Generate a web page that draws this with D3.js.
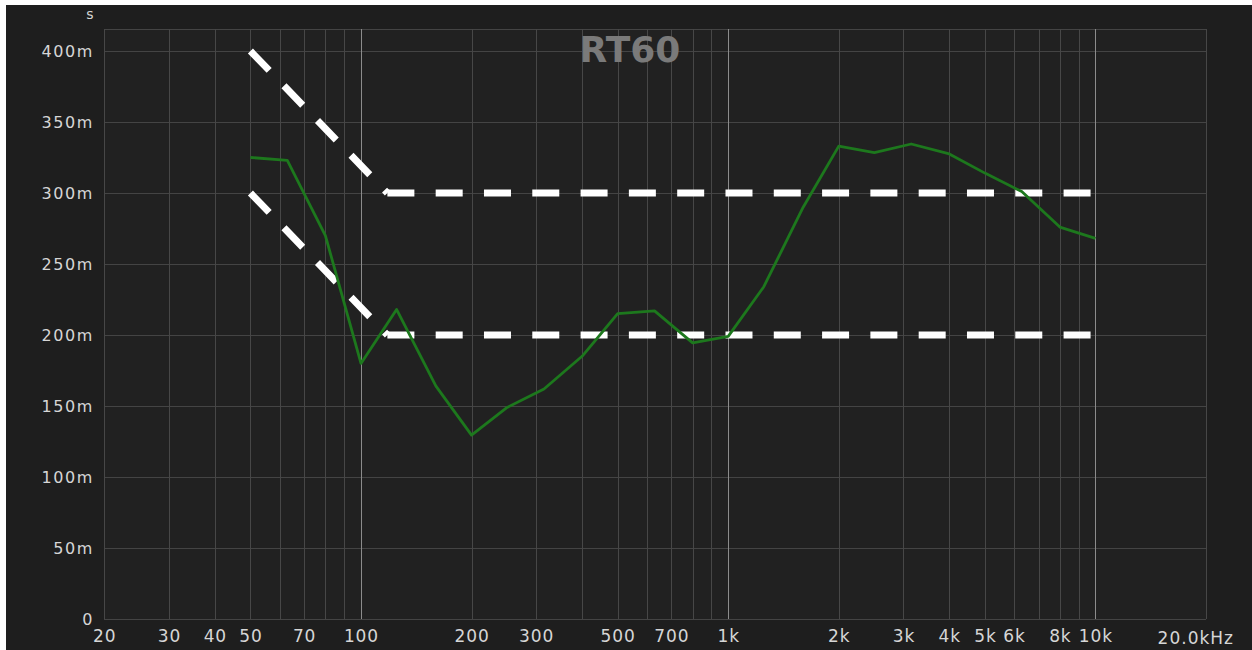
<!DOCTYPE html>
<html>
<head>
<meta charset="utf-8">
<script src="https://cdn.jsdelivr.net/npm/d3@7"></script>
<style>
  html, body { margin: 0; padding: 0; background: #ffffff; }
  svg { display: block; }
</style>
</head>
<body>
<svg id="chart" width="1252" height="650"></svg>
<script>
// Third-octave band centres and measured reverberation time (ms)
const bandFreqs = [50, 63, 80, 100, 125, 160, 200, 250, 315, 400, 500, 630, 800,
                   1000, 1250, 1600, 2000, 2500, 3150, 4000, 5000, 6300, 8000, 10000];
const rt60Values = [325, 323, 270, 180, 218, 164, 129.5, 149, 162, 185, 215, 217, 194.5,
                    199, 234, 290, 333, 328.5, 334.5, 327.5, 314, 301, 276, 268];

// Tolerance limits (ms): sloping low-frequency segment, then flat
const upperLimitFreqs = [50, 118, 10000];
const upperLimitValues = [400, 300, 300];
const lowerLimitFreqs = [50, 118, 10000];
const lowerLimitValues = [300, 200, 200];

// Axis ticks
const yTicks = [0, 50, 100, 150, 200, 250, 300, 350, 400];
const gridFreqs = [20, 30, 40, 50, 60, 70, 80, 90,
                   100, 200, 300, 400, 500, 600, 700, 800, 900,
                   1000, 2000, 3000, 4000, 5000, 6000, 7000, 8000, 9000, 10000, 20000];
const majorFreqs = [100, 1000, 10000];
const xTickValues = [20, 30, 40, 50, 70, 100, 200, 300, 500, 700,
                     1000, 2000, 3000, 4000, 5000, 6000, 8000, 10000];
const xTickLabels = ["20", "30", "40", "50", "70", "100", "200", "300", "500", "700",
                     "1k", "2k", "3k", "4k", "5k", "6k", "8k", "10k"];

const svg = d3.select("#chart");

const x = d3.scaleLog().domain([20, 20000]).range([104.3, 1206]);
const y = d3.scaleLinear().domain([0, 400]).range([619, 51]);
const yTop = y.invert(29);

// dark panel
svg.append("rect").attr("x", 6).attr("y", 5).attr("width", 1246).attr("height", 645)
  .attr("fill", "#1e1e1e");
svg.append("rect")
  .attr("x", x(20)).attr("y", y(yTop))
  .attr("width", x(20000) - x(20)).attr("height", y(0) - y(yTop))
  .attr("fill", "#212121");

// horizontal grid
const grid = svg.append("g").attr("shape-rendering", "crispEdges");
grid.selectAll("line.h").data(yTicks.concat([yTop])).join("line")
  .attr("class", "h")
  .attr("x1", x(20)).attr("x2", x(20000))
  .attr("y1", d => Math.round(y(d)) + 0.5).attr("y2", d => Math.round(y(d)) + 0.5)
  .attr("stroke", "#444444").attr("stroke-width", 1);

// vertical grid
grid.selectAll("line.v").data(gridFreqs).join("line")
  .attr("class", "v")
  .attr("x1", d => Math.round(x(d)) + 0.5).attr("x2", d => Math.round(x(d)) + 0.5)
  .attr("y1", y(yTop)).attr("y2", y(0))
  .attr("stroke", d => majorFreqs.includes(d) ? "#8c8c8c" : "#474747")
  .attr("stroke-width", 1);

// title
svg.append("text")
  .attr("x", 630).attr("y", 62)
  .attr("text-anchor", "middle")
  .attr("font-family", "DejaVu Sans, sans-serif")
  .attr("font-weight", "bold")
  .attr("font-size", 36)
  .attr("fill", "#7a7a7a")
  .text("RT60");

const labelFont = "DejaVu Sans, sans-serif";

// y axis
const yAxis = d3.axisLeft(y).tickValues(yTicks)
  .tickFormat(d => d === 0 ? "0" : d + "m").tickSize(0).tickPadding(0);
const yG = svg.append("g").attr("transform", "translate(94,0)").call(yAxis);
yG.select(".domain").remove();
yG.selectAll("text")
  .attr("font-family", labelFont).attr("font-size", 16)
  .attr("letter-spacing", "1.6px")
  .attr("fill", "#d6d6d6")
  .attr("dy", "0.36em");

// unit label
svg.append("text").attr("x", 90).attr("y", 19).attr("text-anchor", "middle")
  .attr("font-family", labelFont).attr("font-size", 14).attr("fill", "#d6d6d6").text("s");

// x axis
const xAxis = d3.axisBottom(x).tickValues(xTickValues)
  .tickFormat((d, i) => xTickLabels[i]).tickSize(0).tickPadding(0);
const xG = svg.append("g").attr("transform", "translate(0,630)").call(xAxis);
xG.select(".domain").remove();
xG.selectAll("text")
  .attr("font-family", labelFont).attr("font-size", 17)
  .attr("letter-spacing", "0.9px")
  .attr("fill", "#d6d6d6")
  .attr("dy", "0.72em");

svg.append("text").attr("x", 1234).attr("y", 643.5).attr("text-anchor", "end")
  .attr("font-family", labelFont).attr("font-size", 17).attr("letter-spacing", "1px")
  .attr("fill", "#d6d6d6").text("20.0kHz");

// tolerance limits: each straight segment dashed from its own start
function drawLimit(freqs, vals) {
  for (let i = 0; i < freqs.length - 1; i++) {
    svg.append("line")
      .attr("x1", x(freqs[i])).attr("y1", y(vals[i]))
      .attr("x2", x(freqs[i + 1])).attr("y2", y(vals[i + 1]))
      .attr("stroke", "#ffffff").attr("stroke-width", 7)
      .attr("stroke-dasharray", "27,21.3");
  }
}
drawLimit(upperLimitFreqs, upperLimitValues);
drawLimit(lowerLimitFreqs, lowerLimitValues);

// measured curve
const line = d3.line().x(d => x(d[0])).y(d => y(d[1]));
svg.append("path")
  .datum(bandFreqs.map((f, i) => [f, rt60Values[i]]))
  .attr("d", line)
  .attr("fill", "none")
  .attr("stroke", "#1d781d")
  .attr("stroke-width", 2.8)
  .attr("stroke-linejoin", "round");
</script>
</body>
</html>
